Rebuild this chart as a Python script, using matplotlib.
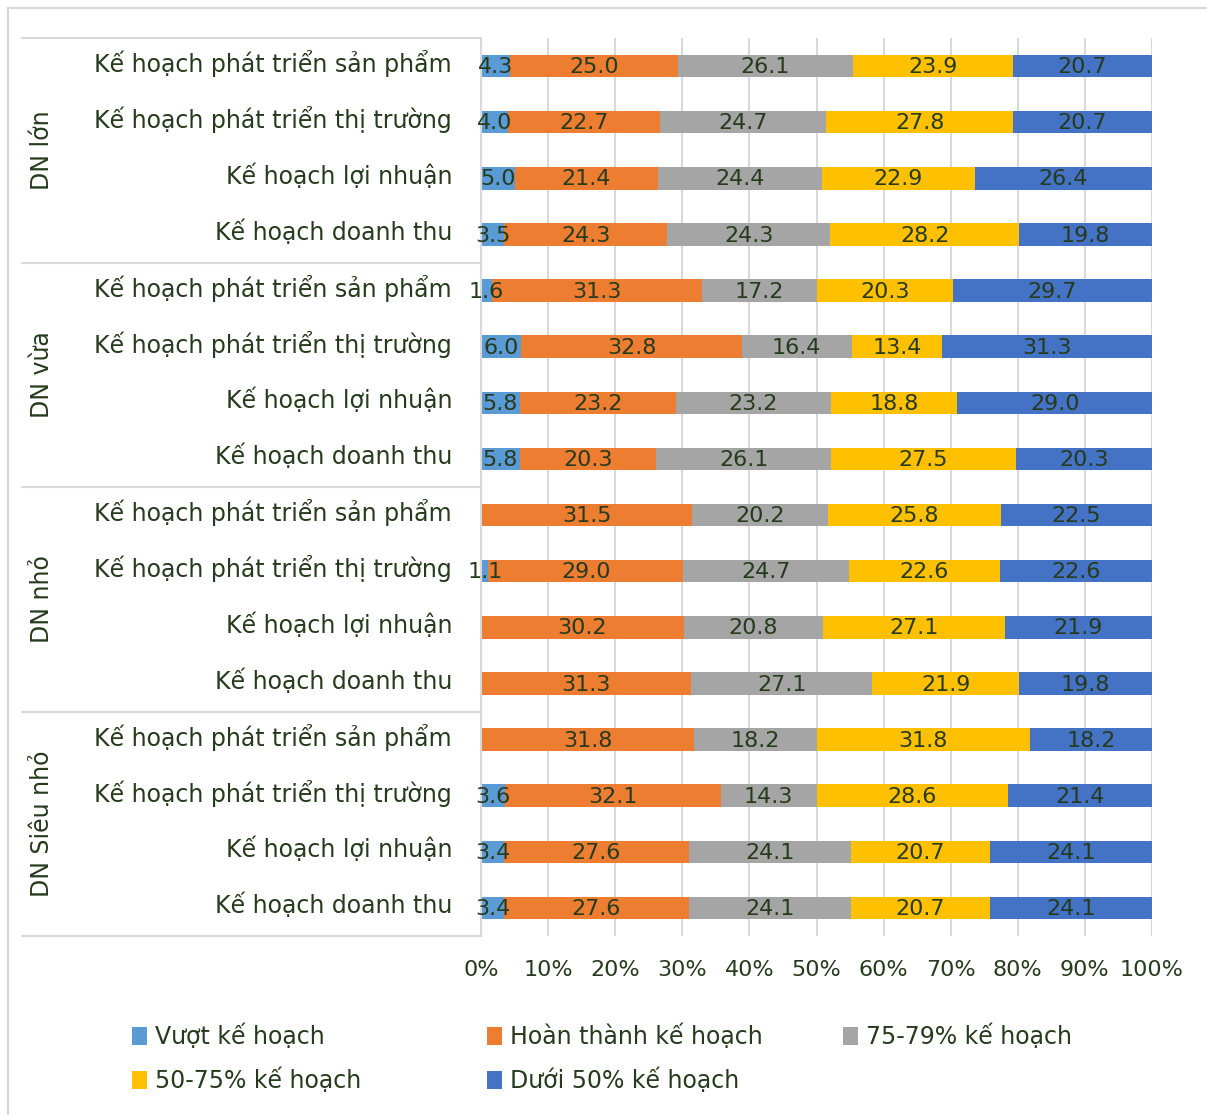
import matplotlib
matplotlib.use("Agg")
import matplotlib.pyplot as plt
import matplotlib.transforms as mtransforms
from matplotlib.patches import Patch, Rectangle
import numpy as np

groups = ["DN lớn", "DN vừa", "DN nhỏ", "DN Siêu nhỏ"]
items = ["Kế hoạch phát triển sản phẩm", "Kế hoạch phát triển thị trường",
         "Kế hoạch lợi nhuận", "Kế hoạch doanh thu"]
series = ["Vượt kế hoạch", "Hoàn thành kế hoạch", "75-79% kế hoạch",
          "50-75% kế hoạch", "Dưới 50% kế hoạch"]
colors = ["#5B9BD5", "#ED7D31", "#A5A5A5", "#FFC000", "#4472C4"]

# rows top to bottom: group by group, item by item
vuot      = [4.3, 4.0, 5.0, 3.5,  1.6, 6.0, 5.8, 5.8,  0.0, 1.1, 0.0, 0.0,  0.0, 3.6, 3.4, 3.4]
hoanthanh = [25.0, 22.7, 21.4, 24.3,  31.3, 32.8, 23.2, 20.3,  31.5, 29.0, 30.2, 31.3,  31.8, 32.1, 27.6, 27.6]
p75_79    = [26.1, 24.7, 24.4, 24.3,  17.2, 16.4, 23.2, 26.1,  20.2, 24.7, 20.8, 27.1,  18.2, 14.3, 24.1, 24.1]
p50_75    = [23.9, 27.8, 22.9, 28.2,  20.3, 13.4, 18.8, 27.5,  25.8, 22.6, 27.1, 21.9,  31.8, 28.6, 20.7, 20.7]
duoi50    = [20.7, 20.7, 26.4, 19.8,  29.7, 31.3, 29.0, 20.3,  22.5, 22.6, 21.9, 19.8,  18.2, 21.4, 24.1, 24.1]
xticks = [0, 10, 20, 30, 40, 50, 60, 70, 80, 90, 100]

txt = "#263A1D"
fam = "DejaVu Sans"
W, H = 1207, 1115
fig = plt.figure(figsize=(W/100, H/100), dpi=100)
fig.patches.append(Rectangle((8/W, -0.1), 1.2, 1.1 - 8/H, transform=fig.transFigure,
                             fill=False, edgecolor="#D9D9D9", linewidth=1.5))
x0, x1, yt, yb = 481, 1152, 38, 936
ax = fig.add_axes([x0/W, 1 - yb/H, (x1-x0)/W, (yb-yt)/H])

data = np.array([vuot, hoanthanh, p75_79, p50_75, duoi50])
totals = data.sum(axis=0)
pct = data / totals * 100
n = data.shape[1]
y = np.arange(n)
left = np.zeros(n)
for k in range(5):
    ax.barh(y, pct[k], left=left, height=0.4, color=colors[k], zorder=2)
    for i in range(n):
        if data[k, i] > 0:
            ax.text(left[i] + pct[k, i]/2, y[i] + 0.02, f"{data[k, i]:.1f}", ha="center",
                    va="center", fontsize=16, color=txt, family=fam, zorder=3)
    left += pct[k]

ax.set_xlim(0, 100)
ax.set_ylim(n - 0.5, -0.5)
ax.set_xticks(xticks)
ax.set_xticklabels([f"{t}%" for t in xticks], fontsize=16, color=txt, family=fam)
ax.tick_params(axis="x", length=0, pad=17)
ax.set_yticks([])
for s in ["top", "right", "bottom"]:
    ax.spines[s].set_visible(False)
ax.spines["left"].set_color("#D9D9D9")
ax.spines["left"].set_linewidth(1.5)
ax.grid(axis="x", color="#D9D9D9", linewidth=1.5, zorder=0)
ax.set_axisbelow(True)

trans = mtransforms.blended_transform_factory(ax.transAxes, ax.transData)
xl = (22 - x0) / (x1 - x0)
for b in [-0.5, 3.5, 7.5, 11.5, 15.5]:
    ax.plot([xl, 0], [b, b], transform=trans, color="#D9D9D9", lw=1.5, clip_on=False)
for g in range(4):
    for j in range(4):
        ax.text(-29/(x1-x0), g*4 + j - 0.04, items[j], transform=trans, ha="right", va="center",
                fontsize=17, color=txt, family=fam)
    ax.text((42 - x0)/(x1 - x0), g*4 + 1.5, groups[g], transform=trans, rotation=90,
            ha="center", va="center", fontsize=17, color=txt, family=fam)

cols = [[0, 3], [1, 4], [2]]
xs = [123, 478, 834]
for c, xc in zip(cols, xs):
    hd = [Patch(facecolor=colors[k]) for k in c]
    lg = fig.legend(hd, [series[k] for k in c], loc="upper left",
                    bbox_to_anchor=(xc/W, 1 - 1014/H), frameon=False,
                    prop={"family": fam, "size": 17}, handlelength=0.6,
                    handleheight=0.8, handletextpad=0.35, labelspacing=0.8,
                    borderaxespad=0)
    for t in lg.get_texts():
        t.set_color(txt)

fig.savefig("out.png", dpi=100)
